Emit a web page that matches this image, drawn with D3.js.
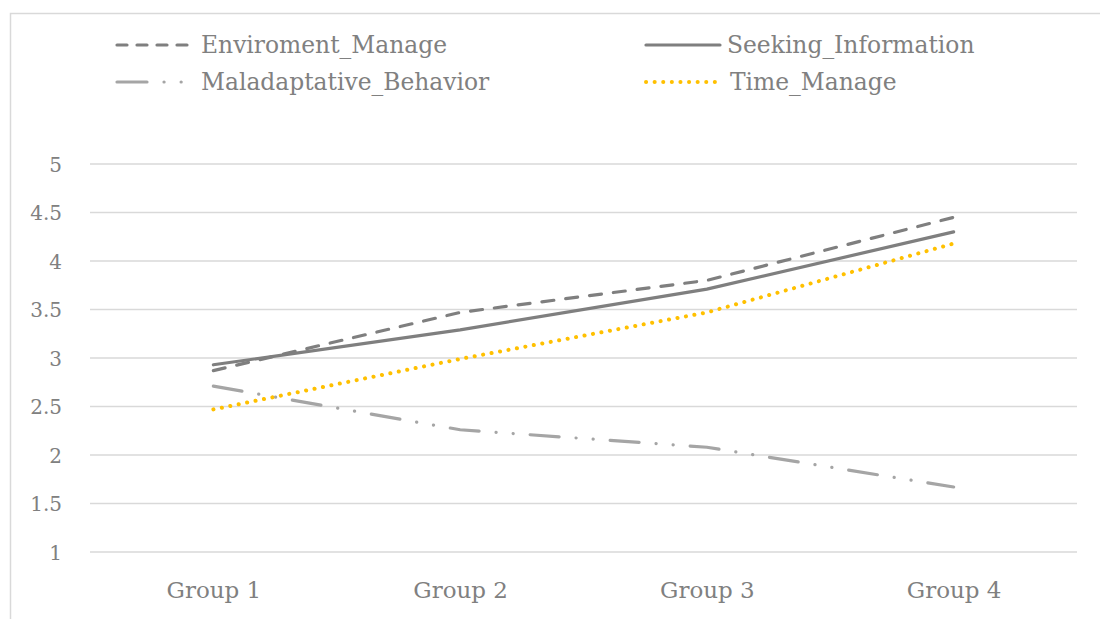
<!DOCTYPE html>
<html><head><meta charset="utf-8">
<script src="https://cdn.jsdelivr.net/npm/d3@7"></script>
<style>body{margin:0;background:#fff}svg{display:block}</style>
</head><body>
<svg id="c" width="1100" height="619"></svg>
<script>
const categories = ["Group 1", "Group 2", "Group 3", "Group 4"];
const envManage = [2.87, 3.47, 3.80, 4.45];
const seekingInfo = [2.93, 3.29, 3.71, 4.30];
const maladaptive = [2.71, 2.26, 2.08, 1.67];
const timeManage = [2.47, 2.99, 3.47, 4.18];
const yTicks = [1, 1.5, 2, 2.5, 3, 3.5, 4, 4.5, 5];
const seriesNames = ["Enviroment_Manage", "Seeking_Information", "Maladaptative_Behavior", "Time_Manage"];

(function () {
const series = [
  {name: seriesNames[0], values: envManage, color: "#7f7f7f", dash: "12,12", legendDash: "10,10", w: 3.2},
  {name: seriesNames[1], values: seekingInfo, color: "#7f7f7f", dash: null, legendDash: null, w: 3.2},
  {name: seriesNames[2], values: maladaptive, color: "#a5a5a5", dash: "29,17,0.1,17,0.1,17", legendDash: "30,17,0.1,17,0.1,100", w: 3.2},
  {name: seriesNames[3], values: timeManage, color: "#ffc000", dash: "0.1,8.5", legendDash: "0.1,8.5", w: 4}
];

const svg = d3.select("#c");
const font = "'DejaVu Serif', serif";
const textColor = "#808080";

svg.append("path").attr("d", "M10.5,619 V13.5 H1100").attr("fill", "none").attr("stroke", "#d9d9d9").attr("stroke-width", 1.5);

const mLeft = 90, mRight = 1077, mTop = 164, mBottom = 552;
const x = d3.scalePoint().domain(categories).range([mLeft, mRight]).padding(0.5);
const y = d3.scaleLinear().domain([1, 5]).range([mBottom, mTop]);

svg.append("g").selectAll("line").data(yTicks).join("line")
  .attr("x1", mLeft).attr("x2", mRight)
  .attr("y1", d => y(d)).attr("y2", d => y(d))
  .attr("stroke", "#d9d9d9").attr("stroke-width", 1.5);

const yAxis = d3.axisLeft(y).tickValues(yTicks).tickSize(0).tickPadding(0).tickFormat(d3.format("~g"));
const ya = svg.append("g").attr("transform", `translate(${mLeft - 28},0)`).call(yAxis);
ya.select(".domain").remove();
ya.selectAll("text").attr("font-family", font).attr("font-size", 20).attr("fill", textColor).attr("dy", "0.35em");

const xAxis = d3.axisBottom(x).tickSize(0).tickPadding(0);
const xa = svg.append("g").attr("transform", `translate(0,${mBottom + 29})`).call(xAxis);
xa.select(".domain").remove();
xa.selectAll("text").attr("font-family", font).attr("font-size", 23).attr("fill", textColor).attr("dy", "0.75em");

const line = d3.line().x((d, i) => x(categories[i])).y(d => y(d));
svg.append("g").selectAll("path").data(series).join("path")
  .attr("d", d => line(d.values))
  .attr("fill", "none")
  .attr("stroke", d => d.color)
  .attr("stroke-width", d => d.w)
  .attr("stroke-linecap", "round")
  .attr("stroke-dasharray", d => d.dash);

const legendPos = [
  {x1: 117, x2: 196, tx: 201, ty: 45},
  {x1: 646, x2: 720, tx: 727, ty: 45},
  {x1: 117, x2: 196, tx: 201, ty: 82},
  {x1: 646, x2: 720, tx: 730, ty: 82}
];
const lg = svg.append("g").selectAll("g").data(series).join("g");
lg.append("line")
  .attr("x1", (d, i) => legendPos[i].x1).attr("x2", (d, i) => legendPos[i].x2)
  .attr("y1", (d, i) => legendPos[i].ty).attr("y2", (d, i) => legendPos[i].ty)
  .attr("stroke", d => d.color).attr("stroke-width", d => d.w)
  .attr("stroke-linecap", "round")
  .attr("stroke-dasharray", d => d.legendDash);
lg.append("text")
  .attr("x", (d, i) => legendPos[i].tx).attr("y", (d, i) => legendPos[i].ty)
  .attr("dy", "0.35em")
  .attr("font-family", font).attr("font-size", 23.4).attr("fill", textColor)
  .text(d => d.name);
})();
</script>
</body></html>
